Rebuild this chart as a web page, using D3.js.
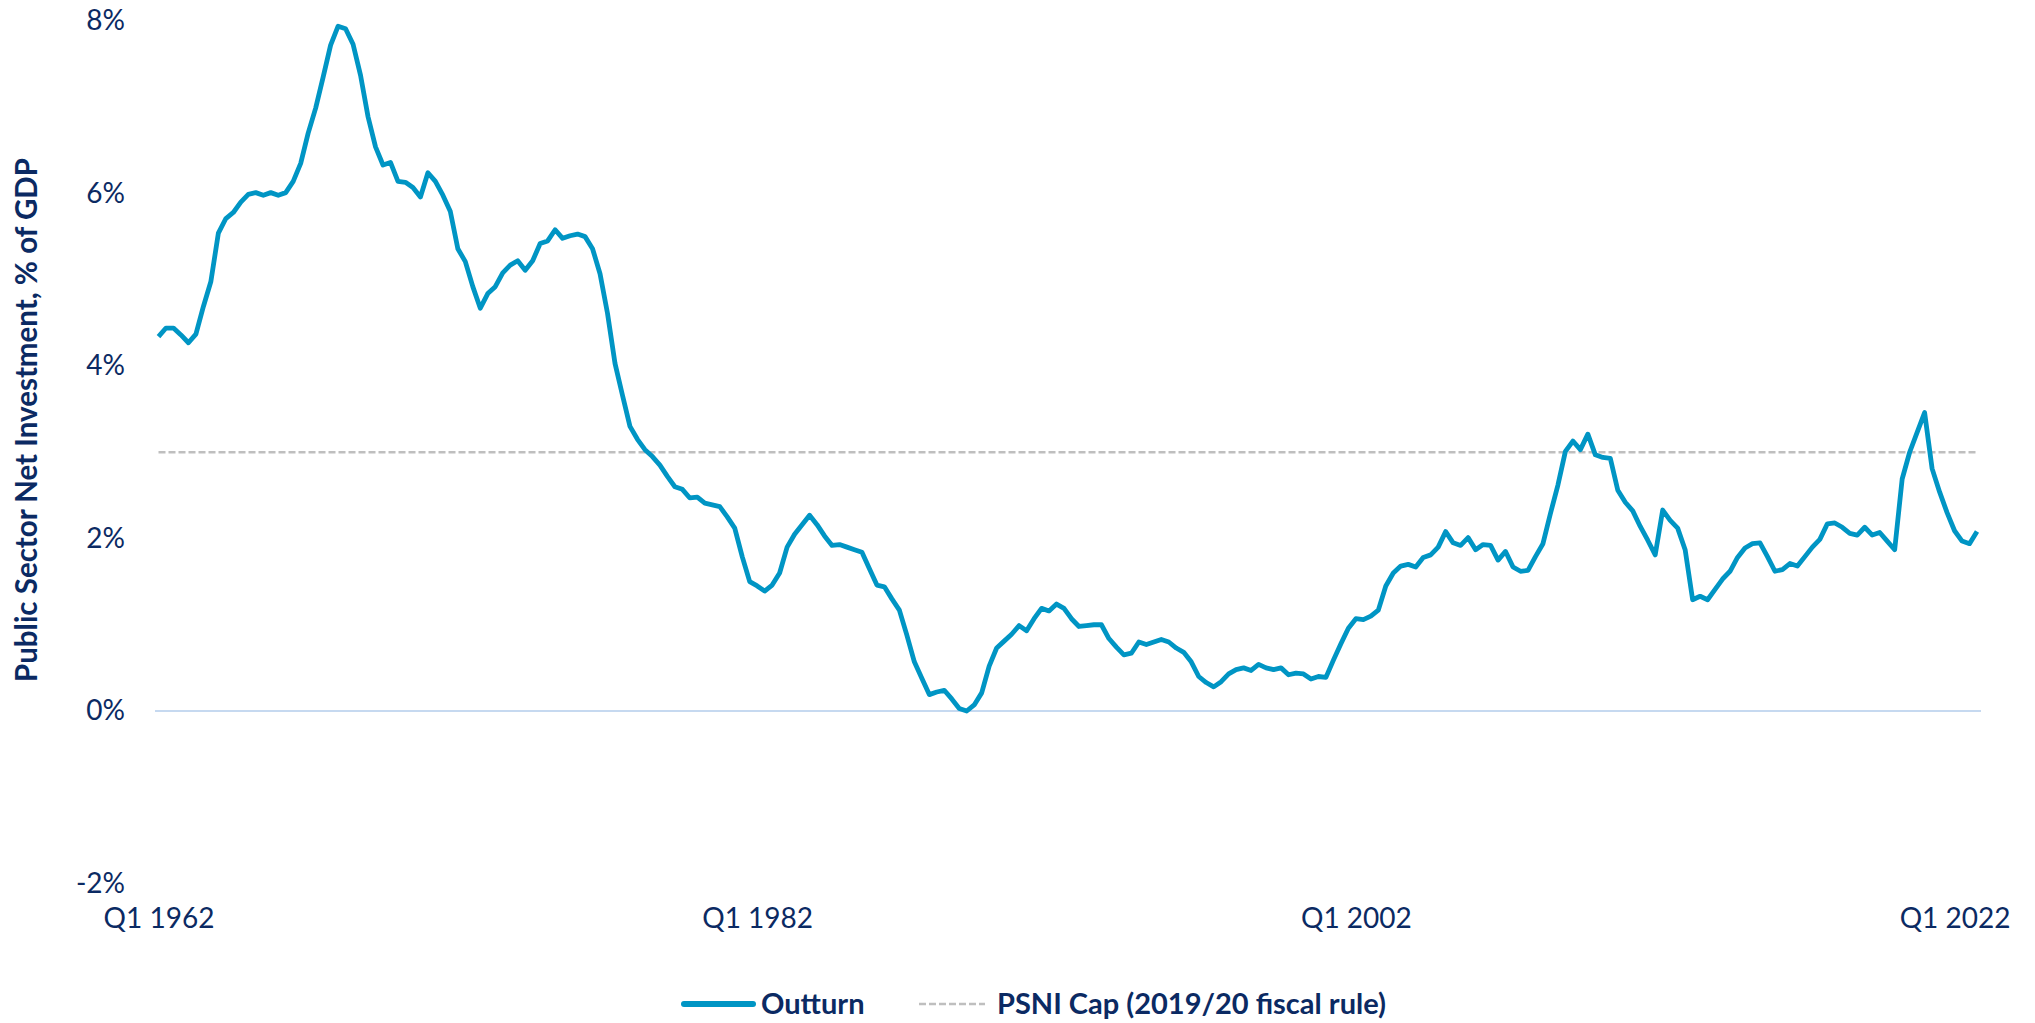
<!DOCTYPE html>
<html>
<head>
<meta charset="utf-8">
<script src="https://cdn.jsdelivr.net/npm/d3@7"></script>
<style>
  html, body { margin: 0; padding: 0; background: #ffffff; }
  svg { display: block; }
  text { font-family: Lato, "Open Sans", sans-serif; fill: #0B2A63; }
</style>
</head>
<body>
<svg id="chart" width="2035" height="1023"></svg>
<script>
// Public sector net investment, % of GDP, quarterly from Q1 1962
const startYear = 1962;
const outturn = [
  4.34, 4.44, 4.44, 4.36, 4.27, 4.37, 4.69, 4.98, 5.54, 5.71,
  5.78, 5.90, 5.99, 6.01, 5.98, 6.01, 5.98, 6.01, 6.14, 6.35,
  6.70, 6.99, 7.35, 7.72, 7.94, 7.91, 7.73, 7.37, 6.89, 6.54,
  6.33, 6.36, 6.14, 6.13, 6.07, 5.96, 6.24, 6.14, 5.98, 5.79,
  5.36, 5.21, 4.92, 4.67, 4.84, 4.92, 5.08, 5.17, 5.22, 5.11,
  5.22, 5.42, 5.45, 5.58, 5.48, 5.51, 5.53, 5.50, 5.36, 5.07,
  4.61, 4.03, 3.66, 3.30, 3.15, 3.03, 2.95, 2.85, 2.72, 2.60,
  2.57, 2.47, 2.48, 2.41, 2.39, 2.37, 2.25, 2.12, 1.79, 1.50,
  1.45, 1.39, 1.46, 1.60, 1.90, 2.05, 2.16, 2.27, 2.16, 2.03,
  1.92, 1.93, 1.90, 1.87, 1.84, 1.65, 1.46, 1.44, 1.30, 1.17,
  0.88, 0.57, 0.38, 0.19, 0.22, 0.24, 0.14, 0.03, 0.00, 0.07,
  0.21, 0.52, 0.73, 0.81, 0.89, 0.99, 0.93, 1.07, 1.19, 1.16,
  1.24, 1.19, 1.07, 0.98, 0.99, 1.00, 1.00, 0.84, 0.74, 0.65,
  0.67, 0.80, 0.77, 0.80, 0.83, 0.80, 0.73, 0.68, 0.57, 0.40,
  0.33, 0.28, 0.34, 0.43, 0.48, 0.50, 0.47, 0.54, 0.50, 0.48,
  0.50, 0.42, 0.44, 0.43, 0.37, 0.40, 0.39, 0.59, 0.78, 0.96,
  1.07, 1.06, 1.10, 1.17, 1.45, 1.60, 1.68, 1.70, 1.67, 1.78,
  1.81, 1.90, 2.08, 1.95, 1.92, 2.01, 1.87, 1.93, 1.92, 1.75,
  1.85, 1.67, 1.62, 1.63, 1.79, 1.94, 2.29, 2.62, 3.01, 3.13,
  3.03, 3.21, 2.97, 2.94, 2.93, 2.56, 2.42, 2.32, 2.14, 1.98,
  1.81, 2.33, 2.21, 2.12, 1.87, 1.29, 1.33, 1.29, 1.41, 1.53,
  1.62, 1.78, 1.89, 1.94, 1.95, 1.79, 1.62, 1.64, 1.71, 1.68,
  1.79, 1.90, 1.99, 2.17, 2.18, 2.13, 2.06, 2.04, 2.13, 2.04,
  2.07, 1.97, 1.87, 2.69, 3.00, 3.23, 3.46, 2.81, 2.54, 2.30,
  2.09, 1.97, 1.94, 2.08
];
const capValue = 3.0;   // PSNI cap under the 2019/20 fiscal rule
const xTickLabels = ["Q1 1962", "Q1 1982", "Q1 2002", "Q1 2022"];
const yTickValues = [-2, 0, 2, 4, 6, 8];
const seriesNames = ["Outturn", "PSNI Cap (2019/20 fiscal rule)"];

// quarter labels for the category axis
const quarters = outturn.map((_, i) => "Q" + (i % 4 + 1) + " " + (startYear + Math.floor(i / 4)));

const svg = d3.select("#chart");
const lineColor = "#0095C4";
const capColor = "#BFBFBF";
const zeroColor = "#C6D9F0";

const x = d3.scalePoint().domain(quarters).range([158.5, 1977]);
const y = d3.scaleLinear().domain([-2, 8]).range([883.5, 21]);

// zero line
svg.append("line")
  .attr("x1", 155).attr("x2", 1981)
  .attr("y1", y(0)).attr("y2", y(0))
  .attr("stroke", zeroColor).attr("stroke-width", 2);

// y axis labels
const yAxis = d3.axisLeft(y).tickValues(yTickValues).tickSize(0).tickPadding(0)
  .tickFormat(d => d + "%");
const gy = svg.append("g").attr("transform", "translate(125,0)").call(yAxis);
gy.select(".domain").remove();
gy.selectAll("text")
  .attr("font-size", 28).attr("fill", "#0B2A63")
  .style("font-family", "Lato, 'Open Sans', sans-serif");

// x axis labels
const xAxis = d3.axisBottom(x).tickValues(xTickLabels).tickSize(0).tickPadding(0);
const gx = svg.append("g").attr("transform", "translate(0,908)").call(xAxis);
gx.select(".domain").remove();
gx.selectAll("text")
  .attr("font-size", 28).attr("fill", "#0B2A63")
  .style("font-family", "Lato, 'Open Sans', sans-serif");

// y axis title
svg.append("text")
  .attr("transform", "translate(37,420) rotate(-90)")
  .attr("text-anchor", "middle")
  .attr("font-size", 29.5).attr("font-weight", "bold")
  .text("Public Sector Net Investment, % of GDP");

// PSNI cap line
svg.append("path")
  .datum(quarters)
  .attr("d", d3.line().x(q => x(q)).y(() => y(capValue)))
  .attr("fill", "none")
  .attr("stroke", capColor).attr("stroke-width", 2.5)
  .attr("stroke-dasharray", "7,3");

// outturn line
svg.append("path")
  .datum(outturn)
  .attr("d", d3.line().x((d, i) => x(quarters[i])).y(d => y(d)))
  .attr("fill", "none")
  .attr("stroke", lineColor).attr("stroke-width", 4.8)
  .attr("stroke-linejoin", "round");

// legend
const legend = svg.append("g");
legend.append("line")
  .attr("x1", 684).attr("x2", 753).attr("y1", 1004).attr("y2", 1004)
  .attr("stroke", lineColor).attr("stroke-width", 6).attr("stroke-linecap", "round");
legend.append("text")
  .attr("x", 761).attr("y", 1014)
  .attr("font-size", 29).attr("font-weight", "bold")
  .text(seriesNames[0]);
legend.append("line")
  .attr("x1", 919).attr("x2", 985).attr("y1", 1004).attr("y2", 1004)
  .attr("stroke", capColor).attr("stroke-width", 2.5).attr("stroke-dasharray", "7,3");
legend.append("text")
  .attr("x", 997).attr("y", 1014)
  .attr("font-size", 29).attr("font-weight", "bold")
  .text(seriesNames[1]);
</script>
</body>
</html>
